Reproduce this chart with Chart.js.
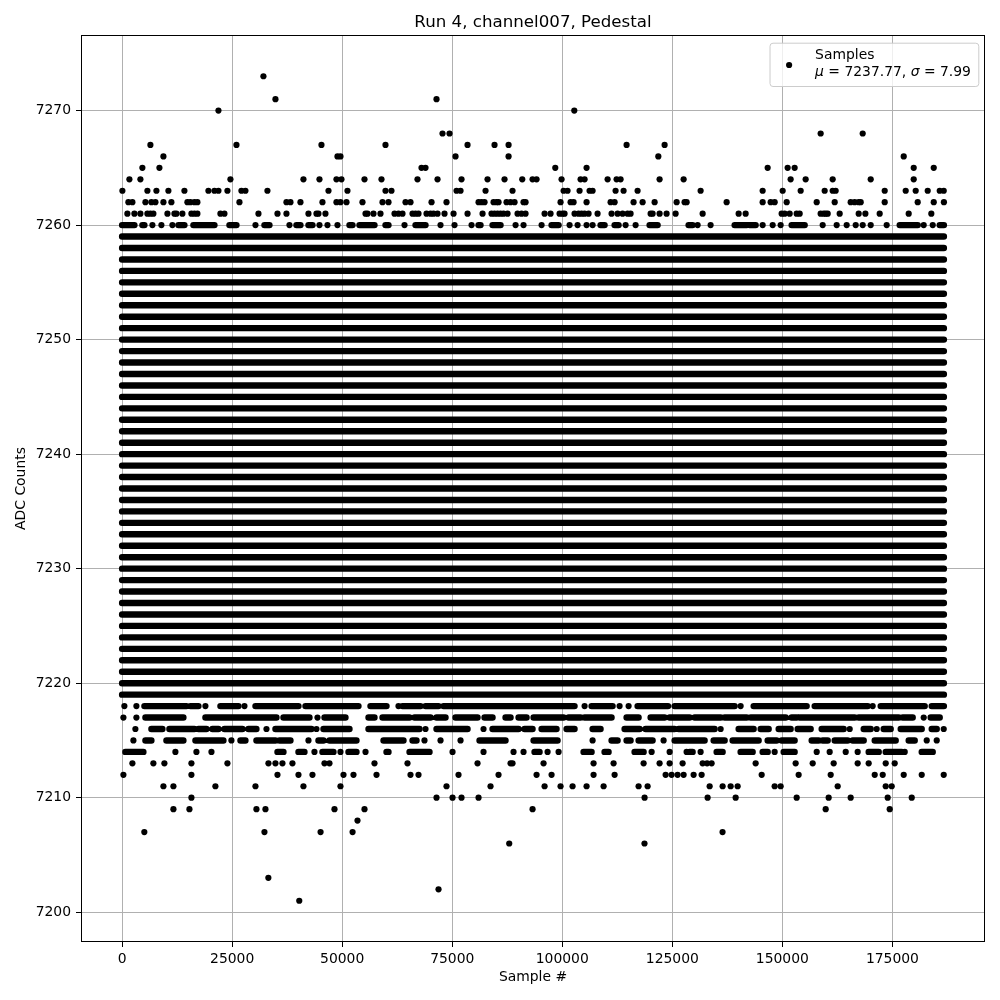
<!DOCTYPE html>
<html>
<head>
<meta charset="utf-8">
<title>Run 4, channel007, Pedestal</title>
<script src="https://cdn.jsdelivr.net/npm/chart.js@4.4.1/dist/chart.umd.min.js"></script>
<style>
  html, body { margin: 0; padding: 0; background: #ffffff; }
  #chart { display: block; }
</style>
</head>
<body>
<canvas id="chart" width="1000" height="1000"></canvas>
<script>
// ---- data (x values of runs and dots are in thousands of samples) ----
const chartTitle = 'Run 4, channel007, Pedestal';
const seriesLabel = 'Samples';
const meanValue = 7237.77;
const sigmaValue = 7.99;
const lastSample = 186.7; // thousand samples

const xTicks = [0, 25000, 50000, 75000, 100000, 125000, 150000, 175000];
const yTicks = [7200, 7210, 7220, 7230, 7240, 7250, 7260, 7270];

// ADC levels that are hit all along the run
const denseLevels = [7219, 7220, 7221, 7222, 7223, 7224, 7225, 7226, 7227, 7228,
  7229, 7230, 7231, 7232, 7233, 7234, 7235, 7236, 7237, 7238, 7239, 7240, 7241,
  7242, 7243, 7244, 7245, 7246, 7247, 7248, 7249, 7250, 7251, 7252, 7253, 7254,
  7255, 7256, 7257, 7258, 7259];

// partly filled levels: [from, to] runs, or a single sample
const runs7260 = [[0, 2.8], [4.61, 5.07], 6.89, 8.93, 11.43, [12.8, 14.16], [16.2, 20.98], [24.39, 25.98], 30.3, [32.34, 33.48], 38.02, [39.61, 40.52], [42.34, 43.25], 44.84, 46.66, 48.93, [51.66, 52.34], [53.93, 57.34], [59.84, 60.52], 64.16, [66.66, 68.93], 72.34, 75.52, 79.39, [80.98, 81.43], [84.16, 85.98], 89.39, 91.2, 95.3, [97.57, 99.16], 101.66, 103.48, 105.52, 106.89, [108.7, 109.61], [111.89, 112.79], 114.39, 116.66, [119.84, 121.66], [128.7, 129.61], 130.75, 133.7, [139.16, 141.89], [142.57, 143.93], 145.52, 147.8, 149.61, [152.11, 155.07], 159.16, 162.34, 164.61, 166.66, 168.25, 170.07, 173.7, [176.66, 180.75], 182.11, 184.16, [185.75, 186.7]];
const runs7218 = [0.52, 3.25, [5.07, 14.61], [15.52, 17.34], 18.93, [22.34, 26.43], 27.8, [30.3, 40.07], [41.66, 53.7], [56.43, 60.07], 62.79, [63.7, 67.8], [68.93, 71.89], [73.02, 102.79], 105.07, [106.66, 111.43], 113.02, 115.07, [117.11, 124.02], [125.52, 139.16], 140.52, [143.48, 155.52], [157.34, 169.39], 170.52, [172.34, 182.34], [183.93, 186.7]];
const runs7217 = [0.3, 3.25, [5.3, 13.93], [18.93, 35.07], [36.66, 42.57], 44.39, [45.98, 50.75], [55.98, 57.34], [59.16, 65.3], [66.43, 70.07], [71.43, 73.48], [75.75, 80.75], [82.34, 84.16], [87.11, 88.25], [90.07, 91.89], [93.48, 100.3], [101.43, 104.16], [105.07, 111.2], [114.61, 117.34], [120.07, 123.25], [124.39, 128.93], [130.07, 135.98], [136.89, 141.89], [142.8, 150.75], [152.11, 153.25], [153.93, 166.43], [167.34, 176.43], [177.34, 179.61], 182.11, [183.7, 185.75]];
const runs7216 = [3.02, [6.66, 9.16], [10.75, 16.43], [17.34, 19.16], [20.52, 21.89], [23.25, 27.34], [28.7, 30.52], 32.8, [34.84, 43.02], 44.16, [45.75, 51.66], [55.98, 67.57], 68.93, [71.43, 78.48], 82.11, [84.16, 90.07], [91.43, 93.25], [95.3, 98.7], [100.98, 102.79], [106.89, 108.7], [114.16, 117.57], [118.93, 125.52], [126.43, 134.61], 135.98, [140.07, 143.48], [145.07, 146.89], [149.16, 151.88], [153.48, 156.43], [158.93, 163.93], 165.3, [168.48, 170.07], 171.43, [173.02, 174.61], [176.89, 181.66], [183.93, 185.07], 186.66];
const runs7215 = [2.57, [5.3, 6.66], [10.07, 13.93], [16.66, 23.02], 24.84, [26.89, 28.02], [30.52, 34.84], [35.75, 38.25], 42.34, [44.61, 45.75], [47.11, 53.25], [59.39, 63.93], [65.98, 66.89], 68.7, 72.34, 76.89, [81.2, 87.11], [93.48, 98.93], 106.89, [111.2, 112.57], [114.61, 115.52], [117.34, 120.52], 123.02, [125.52, 132.34], [134.39, 136.89], [138.7, 144.61], [146.66, 148.7], [149.84, 152.79], [156.66, 158.25], [159.16, 160.3], [161.89, 164.84], [165.98, 168.48], [170.98, 175.75], [178.7, 180.07], 182.8, 185.07];
const runs7214 = [[0.75, 4.84], 12.11, 16.89, 20.3, [35.3, 36.66], [40.07, 41.43], 43.7, [45.52, 48.02], 49.61, [51.43, 53.25], 55.3, [60.07, 60.52], [65.3, 69.84], 75.07, 82.11, 88.93, 91.2, [93.7, 94.84], 96.66, 99.16, [104.84, 106.66], [109.61, 110.52], [116.43, 118.48], 120.3, 124.39, 128.25, [128.93, 129.61], 131.43, [135.07, 136.43], [140.52, 143.25], [145.52, 146.66], 148.25, [150.3, 152.79], 157.8, 160.75, 164.39, 167.11, [169.61, 171.89], [173.48, 177.11], 177.8, [181.66, 184.16]];

// sparse levels: single samples
const dots7273 = [32.11];
const dots7271 = [34.84, 71.43];
const dots7270 = [21.89, 102.73];
const dots7268 = [72.79, 74.39, 158.7, 168.25];
const dots7267 = [6.43, 25.98, 45.29, 59.84, 78.48, 84.61, 87.8, 114.61, 123.25];
const dots7266 = [9.39, 48.93, 49.61, 75.75, 87.8, 121.82, 177.57];
const dots7265 = [4.61, 8.48, 68.02, 68.93, 98.41, 105.52, 146.66, 151.2, 152.79, 179.84, 184.39];
const dots7264 = [1.66, 4.16, 24.61, 41.2, 44.84, 48.7, 49.84, 55.07, 58.93, 67.11, 71.66, 77.11, 83.02, 86.88, 90.91, 93.25, 94.16, 99.84, 104.16, 105.07, 110.3, 112.34, 113.25, 122.11, 127.57, 151.88, 155.29, 161.43, 170.07, 179.84];
const dots7263 = [0.07, 5.75, 7.8, 10.52, 14.16, 19.61, 20.98, 21.89, 23.93, 27.11, 28.02, 33.02, 46.89, 51.2, 59.84, 61.2, 75.98, 76.89, 82.57, 88.7, 100.3, 101.2, 103.93, 106.2, 106.89, 112.11, 113.93, 117.11, 131.43, 145.52, 150.07, 154.16, 159.61, 161.43, 162.11, 173.25, 178.02, 180.29, 183.02, 185.75, 186.66];
const dots7262 = [1.43, 2.34, 5.3, 6.66, 7.57, 9.39, 11.2, 14.84, 15.52, 16.43, 17.11, 26.66, 37.34, 38.25, 40.52, 45.52, 48.7, 49.61, 50.98, 54.61, 59.16, 60.52, 64.39, 65.52, 70.3, 73.7, 80.98, 81.66, 82.34, 84.39, 85.07, 85.52, 87.34, 88.25, 89.16, 91.2, 91.66, 99.61, 101.89, 102.57, 105.52, 110.98, 111.89, 116.2, 118.25, 120.98, 125.98, 127.79, 128.25, 137.34, 145.52, 147.34, 148.25, 150.98, 157.8, 161.89, 165.52, 166.43, 167.34, 167.8, 173.25, 180.75, 184.39, 186.7];
const dots7261 = [1.2, 2.8, 4.16, 5.75, 6.43, 7.11, 10.3, 11.89, 12.34, 13.7, 15.75, 16.43, 17.11, 22.34, 23.25, 30.98, 35.3, 37.34, 42.34, 44.16, 44.61, 46.2, 55.3, 55.75, 57.11, 58.7, 61.89, 62.79, 63.7, 65.98, 66.66, 67.34, 69.16, 70.07, 70.75, 71.66, 73.25, 75.3, 78.48, 81.89, 83.93, 84.61, 85.3, 85.98, 86.66, 87.57, 89.84, 90.75, 91.66, 95.98, 97.34, 99.39, 100.07, 100.52, 102.79, 103.7, 104.39, 105.07, 105.98, 108.02, 111.2, 112.57, 113.7, 114.84, 115.52, 120.07, 120.52, 122.11, 123.7, 125.75, 131.89, 140.07, 141.66, 149.84, 150.52, 151.66, 153.25, 153.93, 158.7, 159.39, 159.84, 160.3, 163.02, 167.34, 168.86, 172.11, 178.7, 183.84];
const dots7213 = [2.34, 7.11, 9.61, 15.75, 23.93, 33.25, 34.84, 36.43, 38.7, 45.98, 47.11, 57.34, 64.84, 80.75, 88.25, 88.7, 95.75, 107.11, 111.66, 118.48, 122.11, 124.39, 127.34, 131.89, 132.9, 133.93, 143.93, 153.02, 156.89, 161.66, 167.11, 169.61, 173.48, 175.52];
const dots7212 = [0.3, 15.75, 35.3, 40.07, 43.25, 50.3, 52.57, 57.8, 65.52, 67.34, 76.43, 85.52, 94.16, 97.57, 107.11, 111.89, 123.48, 124.84, 126.2, 127.57, 129.84, 131.66, 145.3, 153.7, 160.98, 170.98, 172.8, 177.57, 181.66, 186.66];
const dots7211 = [9.39, 11.66, 21.2, 30.3, 41.2, 49.61, 73.7, 83.7, 95.98, 99.61, 102.34, 105.52, 109.39, 117.34, 119.39, 133.48, 136.43, 138.25, 139.84, 148.25, 149.61, 162.57, 173.48, 174.84];
const dots7210 = [15.75, 71.43, 75.07, 77.11, 80.98, 118.7, 133.02, 139.39, 153.25, 160.52, 165.52, 173.93, 179.39];
const dots7209 = [11.66, 15.3, 30.52, 32.57, 48.25, 55.07, 93.25, 159.84, 174.39];
const dots7208 = [53.48];
const dots7207 = [5.05, 32.34, 45.09, 52.36, 136.41];
const dots7206 = [87.95, 118.68];
const dots7203 = [33.23];
const dots7202 = [71.89];
const dots7201 = [40.25];

const runRows = [[7260, runs7260], [7218, runs7218], [7217, runs7217],
  [7216, runs7216], [7215, runs7215], [7214, runs7214]];
const dotRows = [[7273, dots7273], [7271, dots7271], [7270, dots7270],
  [7268, dots7268], [7267, dots7267], [7266, dots7266], [7265, dots7265],
  [7264, dots7264], [7263, dots7263], [7262, dots7262], [7261, dots7261],
  [7213, dots7213], [7212, dots7212], [7211, dots7211], [7210, dots7210],
  [7209, dots7209], [7208, dots7208], [7207, dots7207], [7206, dots7206],
  [7203, dots7203], [7202, dots7202], [7201, dots7201]];

// ---- build chart data ----
const K = 1000;
const segmentData = [];
const dotData = [];

function addRun(level, from, to) {
  segmentData.push({ x: from * K, y: level }, { x: to * K, y: level }, { x: to * K, y: null });
}

denseLevels.forEach(level => addRun(level, 0, lastSample));
runRows.forEach(([level, runs]) => {
  runs.forEach(r => {
    if (Array.isArray(r)) addRun(level, r[0], r[1]);
    else dotData.push({ x: r * K, y: level });
  });
});
dotRows.forEach(([level, xs]) => {
  xs.forEach(x => dotData.push({ x: x * K, y: level }));
});

// x and y limits with matplotlib-style 5% margins
const xMin = -0.05 * lastSample * K;
const xMax = 1.05 * lastSample * K;
const yMin = 7201 - 0.05 * 72;
const yMax = 7273 + 0.05 * 72;

const FONT = '"DejaVu Sans", Verdana, sans-serif';
const MARKER_R = 3.1;

// box around the plot area, and the title centred over it
const frame = {
  id: 'frame',
  afterDatasetsDraw(chart) {
    const { ctx, chartArea: a } = chart;
    ctx.save();
    ctx.strokeStyle = '#000';
    ctx.lineWidth = 1;
    ctx.strokeRect(Math.round(a.left) + 0.5, Math.round(a.top) + 0.5,
      Math.round(a.right - a.left) - 1, Math.round(a.bottom - a.top) - 1);

    ctx.fillStyle = '#000';
    ctx.font = '16.67px ' + FONT;
    ctx.textAlign = 'center';
    ctx.textBaseline = 'alphabetic';
    ctx.fillText(chartTitle, (a.left + a.right) / 2, a.top - 8);
    ctx.restore();
  }
};

// matplotlib-like legend, top right
const legendBox = {
  id: 'legendBox',
  afterDraw(chart) {
    const { ctx, chartArea: a } = chart;
    const regular = '13.9px ' + FONT;
    const italic = 'italic 13.9px ' + FONT;
    const parts = [
      ['\u03bc', italic],
      [' = ' + meanValue.toFixed(2) + ', ', regular],
      ['\u03c3', italic],
      [' = ' + sigmaValue.toFixed(2), regular]
    ];
    ctx.save();
    let w = 0;
    parts.forEach(([t, f]) => { ctx.font = f; w += ctx.measureText(t).width; });
    const boxW = 45.6 + w + 7.4;
    const boxH = 43.3;
    const right = a.right - 6.7;
    const left = right - boxW;
    const top = a.top + 7.7;

    ctx.beginPath();
    ctx.roundRect(left + 0.5, top + 0.5, boxW, boxH, 3);
    ctx.fillStyle = 'rgba(255,255,255,0.8)';
    ctx.fill();
    ctx.strokeStyle = '#cccccc';
    ctx.lineWidth = 1;
    ctx.stroke();

    ctx.beginPath();
    ctx.arc(left + 19.6, top + 22.3, MARKER_R, 0, Math.PI * 2);
    ctx.fillStyle = '#000';
    ctx.fill();

    ctx.fillStyle = '#000';
    ctx.textBaseline = 'alphabetic';
    ctx.textAlign = 'left';
    ctx.font = regular;
    ctx.fillText(seriesLabel, left + 45.6, top + 16.3);
    let x = left + 45.6;
    parts.forEach(([t, f]) => {
      ctx.font = f;
      ctx.fillText(t, x, top + 33);
      x += ctx.measureText(t).width;
    });
    ctx.restore();
  }
};

const tickFont = { family: FONT, size: 13.9 };

new Chart(document.getElementById('chart'), {
  type: 'scatter',
  data: {
    datasets: [
      {
        label: seriesLabel,
        data: segmentData,
        showLine: true,
        spanGaps: false,
        pointRadius: 0,
        pointHoverRadius: 0,
        borderColor: '#000',
        borderWidth: 2 * MARKER_R + 0.2,
        borderCapStyle: 'round',
        backgroundColor: '#000'
      },
      {
        label: seriesLabel,
        data: dotData,
        showLine: false,
        pointRadius: MARKER_R,
        pointHoverRadius: MARKER_R,
        pointBorderWidth: 0,
        backgroundColor: '#000',
        borderColor: '#000'
      }
    ]
  },
  options: {
    responsive: false,
    animation: false,
    events: [],
    devicePixelRatio: 1,
    layout: { padding: { left: 0, right: 15, top: 35, bottom: 0 } },
    plugins: {
      legend: { display: false },
      tooltip: { enabled: false },
      title: { display: false }
    },
    scales: {
      x: {
        type: 'linear',
        min: xMin,
        max: xMax,
        afterFit(scale) { scale.height = 58; },
        afterBuildTicks(scale) { scale.ticks = xTicks.map(v => ({ value: v })); },
        ticks: {
          color: '#000',
          font: tickFont,
          padding: 4,
          maxRotation: 0,
          autoSkip: false,
          callback: v => String(v)
        },
        grid: {
          color: '#b0b0b0',
          lineWidth: 1,
          tickColor: '#000',
          tickLength: 5
        },
        border: { display: false },
        title: {
          display: true,
          text: 'Sample #',
          color: '#000',
          font: { family: FONT, size: 13.9, lineHeight: 1.2 },
          padding: { top: 0, bottom: 14.2 }
        }
      },
      y: {
        type: 'linear',
        min: yMin,
        max: yMax,
        afterFit(scale) { scale.width = 81; },
        afterBuildTicks(scale) { scale.ticks = yTicks.map(v => ({ value: v })); },
        ticks: {
          color: '#000',
          font: tickFont,
          padding: 5,
          autoSkip: false,
          callback: v => String(v)
        },
        grid: {
          color: '#b0b0b0',
          lineWidth: 1,
          tickColor: '#000',
          tickLength: 5
        },
        border: { display: false },
        title: {
          display: true,
          text: 'ADC Counts',
          color: '#000',
          font: { family: FONT, size: 13.9, lineHeight: 1.2 },
          padding: { top: 12.7, bottom: 0 }
        }
      }
    }
  },
  plugins: [frame, legendBox]
});
</script>
</body>
</html>
